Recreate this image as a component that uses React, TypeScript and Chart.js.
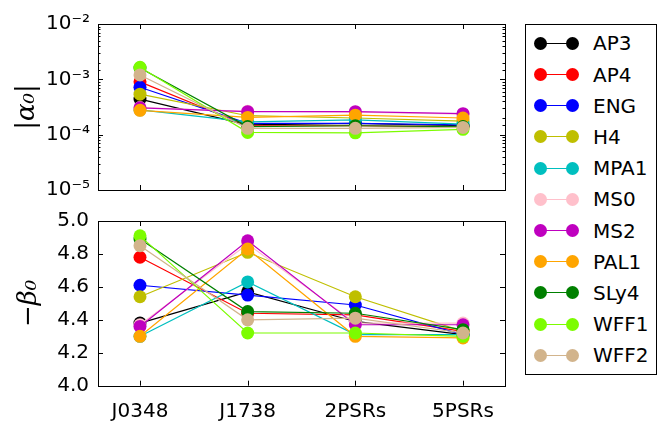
import React, { useEffect, useRef } from 'react';
import { Chart, registerables } from 'chart.js';

Chart.register(...registerables);

const categories = ['J0348', 'J1738', '2PSRs', '5PSRs'];
const eosNames = ['AP3', 'AP4', 'ENG', 'H4', 'MPA1', 'MS0', 'MS2', 'PAL1', 'SLy4', 'WFF1', 'WFF2'];
const eosColors = ['#000000', '#ff0000', '#0000ff', '#bfbf00', '#00bfbf', '#ffc0cb', '#bf00bf', '#ffa500', '#008000', '#7cfc00', '#d2b48c'];

// |alpha_0| per EOS, one value per category
const alphaAP3 = [4.4e-4, 1.5e-4, 1.6e-4, 1.45e-4];
const alphaAP4 = [9.0e-4, 1.45e-4, 1.45e-4, 1.4e-4];
const alphaENG = [7.2e-4, 1.6e-4, 1.6e-4, 1.5e-4];
const alphaH4 = [5.4e-4, 2.2e-4, 2.0e-4, 1.75e-4];
const alphaMPA1 = [2.8e-4, 1.7e-4, 1.85e-4, 1.55e-4];
const alphaMS0 = [3.1e-4, 2.65e-4, 2.55e-4, 2.35e-4];
const alphaMS2 = [3.05e-4, 2.6e-4, 2.6e-4, 2.4e-4];
const alphaPAL1 = [2.75e-4, 2.05e-4, 2.25e-4, 2.0e-4];
const alphaSLy4 = [1.6e-3, 1.4e-4, 1.45e-4, 1.4e-4];
const alphaWFF1 = [1.65e-3, 1.1e-4, 1.08e-4, 1.25e-4];
const alphaWFF2 = [1.2e-3, 1.3e-4, 1.3e-4, 1.35e-4];

// -beta_0 per EOS
const betaAP3 = [4.38, 4.57, 4.39, 4.31];
const betaAP4 = [4.78, 4.44, 4.43, 4.33];
const betaENG = [4.61, 4.55, 4.49, 4.31];
const betaH4 = [4.54, 4.81, 4.54, 4.33];
const betaMPA1 = [4.30, 4.63, 4.31, 4.31];
const betaMS0 = [4.37, 4.86, 4.38, 4.38];
const betaMS2 = [4.36, 4.88, 4.37, 4.37];
const betaPAL1 = [4.30, 4.83, 4.30, 4.29];
const betaSLy4 = [4.89, 4.45, 4.44, 4.34];
const betaWFF1 = [4.91, 4.32, 4.32, 4.30];
const betaWFF2 = [4.85, 4.40, 4.41, 4.32];

const alphaSeries = [alphaAP3, alphaAP4, alphaENG, alphaH4, alphaMPA1, alphaMS0, alphaMS2, alphaPAL1, alphaSLy4, alphaWFF1, alphaWFF2];
const betaSeries = [betaAP3, betaAP4, betaENG, betaH4, betaMPA1, betaMS0, betaMS2, betaPAL1, betaSLy4, betaWFF1, betaWFF2];

const logTickValues = [1e-5, 1e-4, 1e-3, 1e-2];
const betaTickStep = 0.2;

const FONT = 'DejaVu Sans';
const TICK_SIZE = 20;

const SUP: Record<string, string> = { '-': '⁻', '0': '⁰', '1': '¹', '2': '²', '3': '³', '4': '⁴', '5': '⁵', '6': '⁶', '7': '⁷', '8': '⁸', '9': '⁹' };
const isPow10 = (v: number) => Math.abs(Math.log10(v) - Math.round(Math.log10(v))) < 1e-6;
const powLabel = (v: number) => '10' + String(Math.round(Math.log10(v))).split('').map((c) => SUP[c] || c).join('');

const frameTicks = {
  id: 'frameTicks',
  afterDatasetsDraw(chart: any) {
    const { ctx, chartArea: a, scales } = chart;
    const xs = scales.x;
    const ys = scales.y;
    ctx.save();
    ctx.strokeStyle = '#000';
    ctx.lineWidth = 1;
    ctx.beginPath();
    for (const t of xs.ticks) {
      const px = Math.round(xs.getPixelForValue(t.value)) + 0.5;
      ctx.moveTo(px, a.top);
      ctx.lineTo(px, a.top + 5);
      ctx.moveTo(px, a.bottom);
      ctx.lineTo(px, a.bottom - 5);
    }
    const isLog = ys.type === 'logarithmic';
    for (const t of ys.ticks) {
      const major = isLog ? isPow10(t.value) : true;
      const len = major ? 5 : 2.5;
      const py = Math.round(ys.getPixelForValue(t.value)) + 0.5;
      ctx.moveTo(a.left, py);
      ctx.lineTo(a.left + len, py);
      ctx.moveTo(a.right, py);
      ctx.lineTo(a.right - len, py);
    }
    ctx.stroke();
    ctx.strokeRect(Math.round(a.left) + 0.5, Math.round(a.top) + 0.5, Math.round(a.right - a.left), Math.round(a.bottom - a.top));
    ctx.restore();
  },
};

function makeDatasets(series: number[][]) {
  return series.map((vals, i) => ({
    label: eosNames[i],
    data: vals.map((v, j) => ({ x: j, y: v })),
    borderColor: eosColors[i],
    backgroundColor: eosColors[i],
    pointBackgroundColor: eosColors[i],
    pointBorderColor: eosColors[i],
    pointBorderWidth: 0,
    pointRadius: 6.5,
    borderWidth: 1.2,
    tension: 0,
    order: series.length - i,
  }));
}

const xScale = (showLabels: boolean, axisHeight: number) => ({
  type: 'linear' as const,
  min: -0.39,
  max: 3.39,
  display: showLabels,
  afterBuildTicks: (s: any) => {
    s.ticks = categories.map((_, i) => ({ value: i }));
  },
  afterFit: (s: any) => {
    s.height = axisHeight;
  },
  grid: { display: false, drawTicks: false },
  border: { display: false },
  ticks: {
    autoSkip: false,
    maxRotation: 0,
    padding: 14,
    color: '#000',
    font: { family: FONT, size: TICK_SIZE },
    callback: (v: any) => categories[Math.round(v)] ?? '',
  },
});

function TopChart() {
  const ref = useRef<HTMLCanvasElement>(null);
  useEffect(() => {
    const chart = new Chart(ref.current!, {
      type: 'line',
      data: { datasets: makeDatasets(alphaSeries) as any },
      options: {
        animation: false,
        responsive: false,
        events: [],
        layout: { padding: { top: 24, right: 15, bottom: 20, left: 0 } },
        plugins: { legend: { display: false }, tooltip: { enabled: false } },
        scales: {
          x: xScale(false, 0) as any,
          y: {
            type: 'logarithmic',
            min: logTickValues[0],
            max: logTickValues[logTickValues.length - 1],
            afterFit: (s: any) => {
              s.width = 98;
            },
            grid: { display: false, drawTicks: false },
            border: { display: false },
            title: {
              display: true,
              text: '|α₀|',
              color: '#000',
              padding: { top: 12, bottom: 0 },
              font: { family: 'DejaVu Serif', style: 'italic', size: 26 },
            },
            ticks: {
              autoSkip: false,
              padding: 8,
              color: '#000',
              font: { family: FONT, size: TICK_SIZE },
              callback: (v: any) => (isPow10(Number(v)) ? powLabel(Number(v)) : ''),
            },
          },
        },
      },
      plugins: [frameTicks],
    });
    return () => chart.destroy();
  }, []);
  return <canvas ref={ref} width={520} height={210} style={{ position: 'absolute', left: 0, top: 0, display: 'block' }} />;
}

function BottomChart() {
  const ref = useRef<HTMLCanvasElement>(null);
  useEffect(() => {
    const chart = new Chart(ref.current!, {
      type: 'line',
      data: { datasets: makeDatasets(betaSeries) as any },
      options: {
        animation: false,
        responsive: false,
        events: [],
        layout: { padding: { top: 20, right: 15, bottom: 0, left: 0 } },
        plugins: { legend: { display: false }, tooltip: { enabled: false } },
        scales: {
          x: xScale(true, 37.3) as any,
          y: {
            type: 'linear',
            min: 4.0,
            max: 5.0,
            afterFit: (s: any) => {
              s.width = 98;
            },
            grid: { display: false, drawTicks: false },
            border: { display: false },
            title: {
              display: true,
              text: '−β₀',
              color: '#000',
              padding: { top: 14, bottom: 0 },
              font: { family: 'DejaVu Serif', style: 'italic', size: 26 },
            },
            ticks: {
              stepSize: betaTickStep,
              autoSkip: false,
              padding: 9,
              color: '#000',
              font: { family: FONT, size: TICK_SIZE },
              callback: (v: any) => Number(v).toFixed(1),
            },
          },
        },
      },
      plugins: [frameTicks],
    });
    return () => chart.destroy();
  }, []);
  return <canvas ref={ref} width={520} height={223} style={{ position: 'absolute', left: 0, top: 200, display: 'block' }} />;
}

function Legend() {
  return (
    <div
      style={{
        position: 'absolute',
        left: 525,
        top: 24,
        width: 132,
        height: 351,
        border: '1px solid #000',
        boxSizing: 'border-box',
        background: '#fff',
      }}
    >
      {eosNames.map((name, i) => {
        const cy = 18.3 + 31.2 * i;
        const c = eosColors[i];
        return (
          <div key={name}>
            <div style={{ position: 'absolute', left: 14, top: cy - 0.6, width: 32, height: 1.2, background: c }} />
            <div style={{ position: 'absolute', left: 14 - 6.5, top: cy - 6.5, width: 13, height: 13, borderRadius: '50%', background: c }} />
            <div style={{ position: 'absolute', left: 46 - 6.5, top: cy - 6.5, width: 13, height: 13, borderRadius: '50%', background: c }} />
            <div
              style={{
                position: 'absolute',
                left: 67,
                top: cy - 12,
                height: 24,
                lineHeight: '24px',
                fontFamily: FONT,
                fontSize: TICK_SIZE,
                color: '#000',
                whiteSpace: 'nowrap',
              }}
            >
              {name}
            </div>
          </div>
        );
      })}
    </div>
  );
}

export default function App() {
  return (
    <div style={{ position: 'absolute', left: 0, top: 0, width: 657, height: 423, background: '#fff', overflow: 'hidden' }}>
      <TopChart />
      <BottomChart />
      <Legend />
    </div>
  );
}
